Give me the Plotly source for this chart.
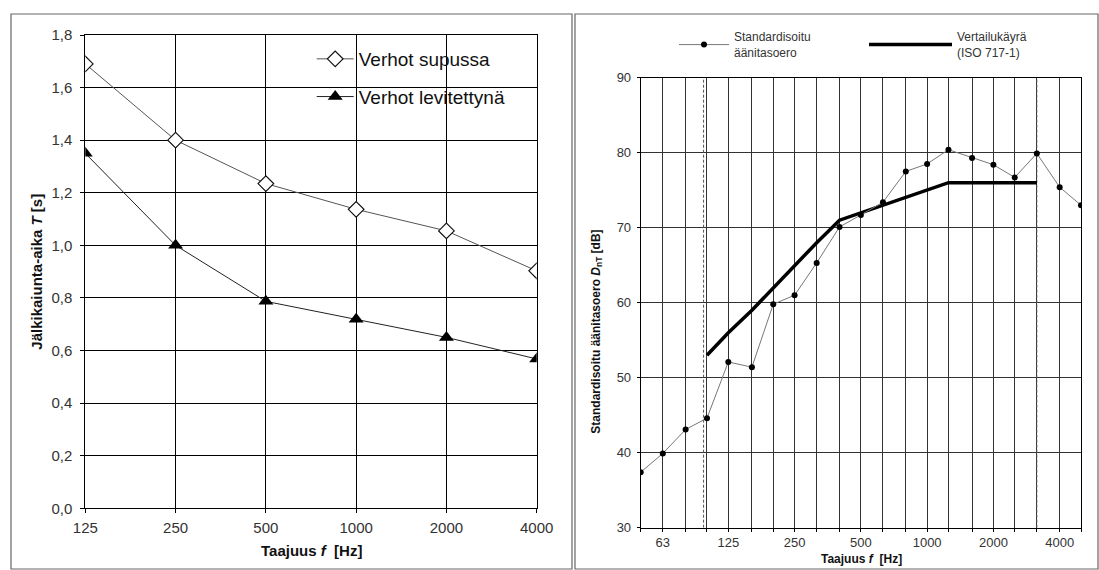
import math
import plotly.graph_objects as go

# ---------------- Data: left chart (reverberation time) ----------------
oct_freqs = [125, 250, 500, 1000, 2000, 4000]
oct_labels = ["125", "250", "500", "1000", "2000", "4000"]
t_supussa = [1.69, 1.40, 1.235, 1.137, 1.055, 0.903]
t_levitettyna = [1.35, 1.00, 0.787, 0.719, 0.650, 0.568]
left_yticks = [0.0, 0.2, 0.4, 0.6, 0.8, 1.0, 1.2, 1.4, 1.6, 1.8]

# ---------------- Data: right chart (sound level difference) ----------------
bands = [50, 63, 80, 100, 125, 160, 200, 250, 315, 400, 500, 630, 800,
         1000, 1250, 1600, 2000, 2500, 3150, 4000, 5000]
band_labels = ["", "63", "", "", "125", "", "", "250", "", "", "500", "", "",
               "1000", "", "", "2000", "", "", "4000", ""]
dnt_values = [37.4, 39.9, 43.1, 44.6, 52.1, 51.4, 59.8, 61.0, 65.3, 70.1, 71.7,
              73.4, 77.5, 78.5, 80.4, 79.3, 78.4, 76.7, 79.9, 75.4, 73.0]
ref_bands = [100, 125, 160, 200, 250, 315, 400, 500, 630, 800, 1000, 1250,
             1600, 2000, 2500, 3150]
ref_curve = [53, 56, 59, 62, 65, 68, 71, 72, 73, 74, 75, 76, 76, 76, 76, 76]
eval_limits_hz = [96.5, 3150]
right_yticks = [30, 40, 50, 60, 70, 80, 90]

FONT = "Arial, 'Liberation Sans', sans-serif"
W, H = 1099, 570


def px(x):
    return x / W


def py(y):
    return (H - y) / H


fig = go.Figure()

# Left chart traces
fig.add_trace(go.Scatter(
    x=oct_freqs, y=t_supussa, mode="lines+markers", name="Verhot supussa",
    line=dict(color="#555555", width=1),
    marker=dict(symbol="diamond", size=12, color="white",
                line=dict(color="#111111", width=1.2)),
    xaxis="x", yaxis="y", legend="legend", legendgroup="a"))
fig.add_trace(go.Scatter(
    x=oct_freqs, y=t_levitettyna, mode="lines+markers", name="Verhot levitettynä",
    line=dict(color="#222222", width=1),
    marker=dict(symbol="triangle-up", size=13, color="black"),
    xaxis="x", yaxis="y", legend="legend", legendgroup="b"))

# Right chart: evaluation range dashed lines
for f in eval_limits_hz:
    fig.add_trace(go.Scatter(
        x=[f, f], y=[right_yticks[0], right_yticks[-1]], mode="lines",
        line=dict(color="#555555", width=1, dash="3px,2px"),
        showlegend=False, hoverinfo="skip", xaxis="x2", yaxis="y2"))

fig.add_trace(go.Scatter(
    x=ref_bands, y=ref_curve, mode="lines", name="Vertailukäyrä<br>(ISO 717-1)",
    line=dict(color="black", width=3.5),
    xaxis="x2", yaxis="y2", legend="legend3"))
fig.add_trace(go.Scatter(
    x=bands, y=dnt_values, mode="lines+markers",
    name="Standardisoitu<br>äänitasoero",
    line=dict(color="#777777", width=1),
    marker=dict(symbol="circle", size=6, color="black"),
    xaxis="x2", yaxis="y2", legend="legend2"))

axis_common = dict(showgrid=True, zeroline=False, showline=True, mirror=True,
                   linecolor="black", linewidth=1, ticks="outside",
                   tickcolor="black", automargin=False)

fig.update_layout(
    width=W, height=H,
    margin=dict(l=0, r=0, t=0, b=0, pad=0, autoexpand=False),
    paper_bgcolor="white", plot_bgcolor="white",
    separators=", ",
    font=dict(family=FONT, color="#222222"),
    xaxis=dict(**axis_common, domain=[px(85.3), px(536.7)], type="log",
               range=[math.log10(oct_freqs[0]), math.log10(oct_freqs[-1])],
               tickvals=oct_freqs, ticktext=oct_labels, gridcolor="black",
               gridwidth=1, ticklen=4, ticklabelstandoff=2,
               tickfont=dict(size=15, color="#333333"), anchor="y"),
    yaxis=dict(**axis_common, domain=[py(508.3), py(35)],
               range=[left_yticks[0], left_yticks[-1]], tickvals=left_yticks,
               tickformat=".1f", gridcolor="black", gridwidth=1, ticklen=4,
               ticklabelstandoff=5, tickfont=dict(size=15, color="#333333"),
               anchor="x"),
    xaxis2=dict(**axis_common, domain=[px(640.7), px(1081)], type="log",
                range=[math.log10(bands[0]), math.log10(bands[-1])],
                tickvals=bands, ticktext=band_labels, gridcolor="#333333",
                gridwidth=1, ticklen=3, ticklabelstandoff=0,
                tickfont=dict(size=13, color="#333333"), anchor="y2"),
    yaxis2=dict(**axis_common, domain=[py(527.7), py(77.7)],
                range=[right_yticks[0], right_yticks[-1]], tickvals=right_yticks,
                gridcolor="#333333", gridwidth=1, ticklen=3,
                ticklabelstandoff=3, tickfont=dict(size=13, color="#333333"),
                anchor="x2"),
    legend=dict(x=px(311.7), y=py(40), xanchor="left", yanchor="top",
                bgcolor="rgba(0,0,0,0)", borderwidth=0, itemwidth=37,
                tracegroupgap=10, font=dict(size=19, color="#111111")),
    legend2=dict(x=px(674), y=py(45), xanchor="left", yanchor="middle",
                 bgcolor="rgba(0,0,0,0)", borderwidth=0, itemwidth=50,
                 font=dict(size=12, color="#333333")),
    legend3=dict(x=px(864), y=py(45), xanchor="left", yanchor="middle",
                 bgcolor="rgba(0,0,0,0)", borderwidth=0, itemwidth=83,
                 font=dict(size=12, color="#333333")),
    shapes=[
        # panel frames
        dict(type="rect", xref="paper", yref="paper", x0=px(11), x1=px(572),
             y0=py(569), y1=py(14), line=dict(color="#666666", width=1.2),
             layer="below"),
        dict(type="rect", xref="paper", yref="paper", x0=px(575), x1=px(1098),
             y0=py(569), y1=py(14), line=dict(color="#666666", width=1.2),
             layer="below"),
        # white legend background on left chart
        dict(type="rect", xref="paper", yref="paper", x0=px(301.7), x1=px(525),
             y0=py(115), y1=py(38), fillcolor="white", line=dict(width=0),
             layer="between"),
    ],
    annotations=[
        dict(text="<b>Jälkikaiunta-aika <i>T</i> [s]</b>", xref="paper",
             yref="paper", x=px(37), y=py(271.7), textangle=-90,
             xanchor="center", yanchor="middle",
             showarrow=False, font=dict(size=15, color="#111111")),
        dict(text="<b>Taajuus <i>f</i>\u00a0 [Hz]</b>", xref="paper",
             yref="paper", x=px(311), y=py(550), xanchor="center",
             yanchor="middle", showarrow=False,
             font=dict(size=15, color="#111111")),
        dict(text="<b>Standardisoitu äänitasoero <i>D</i><sub>nT</sub> [dB]</b>",
             xref="paper", yref="paper", x=px(596.7), y=py(332), textangle=-90,
             xanchor="center", yanchor="middle",
             showarrow=False, font=dict(size=12, color="#111111")),
        dict(text="<b>Taajuus <i>f</i>\u00a0 [Hz]</b>", xref="paper",
             yref="paper", x=px(861), y=py(559.3), xanchor="center",
             yanchor="middle", showarrow=False,
             font=dict(size=12, color="#111111")),
    ],
)

fig.write_html("out.html", config={"displayModeBar": False},
               post_script="document.body.style.margin='0px';")
